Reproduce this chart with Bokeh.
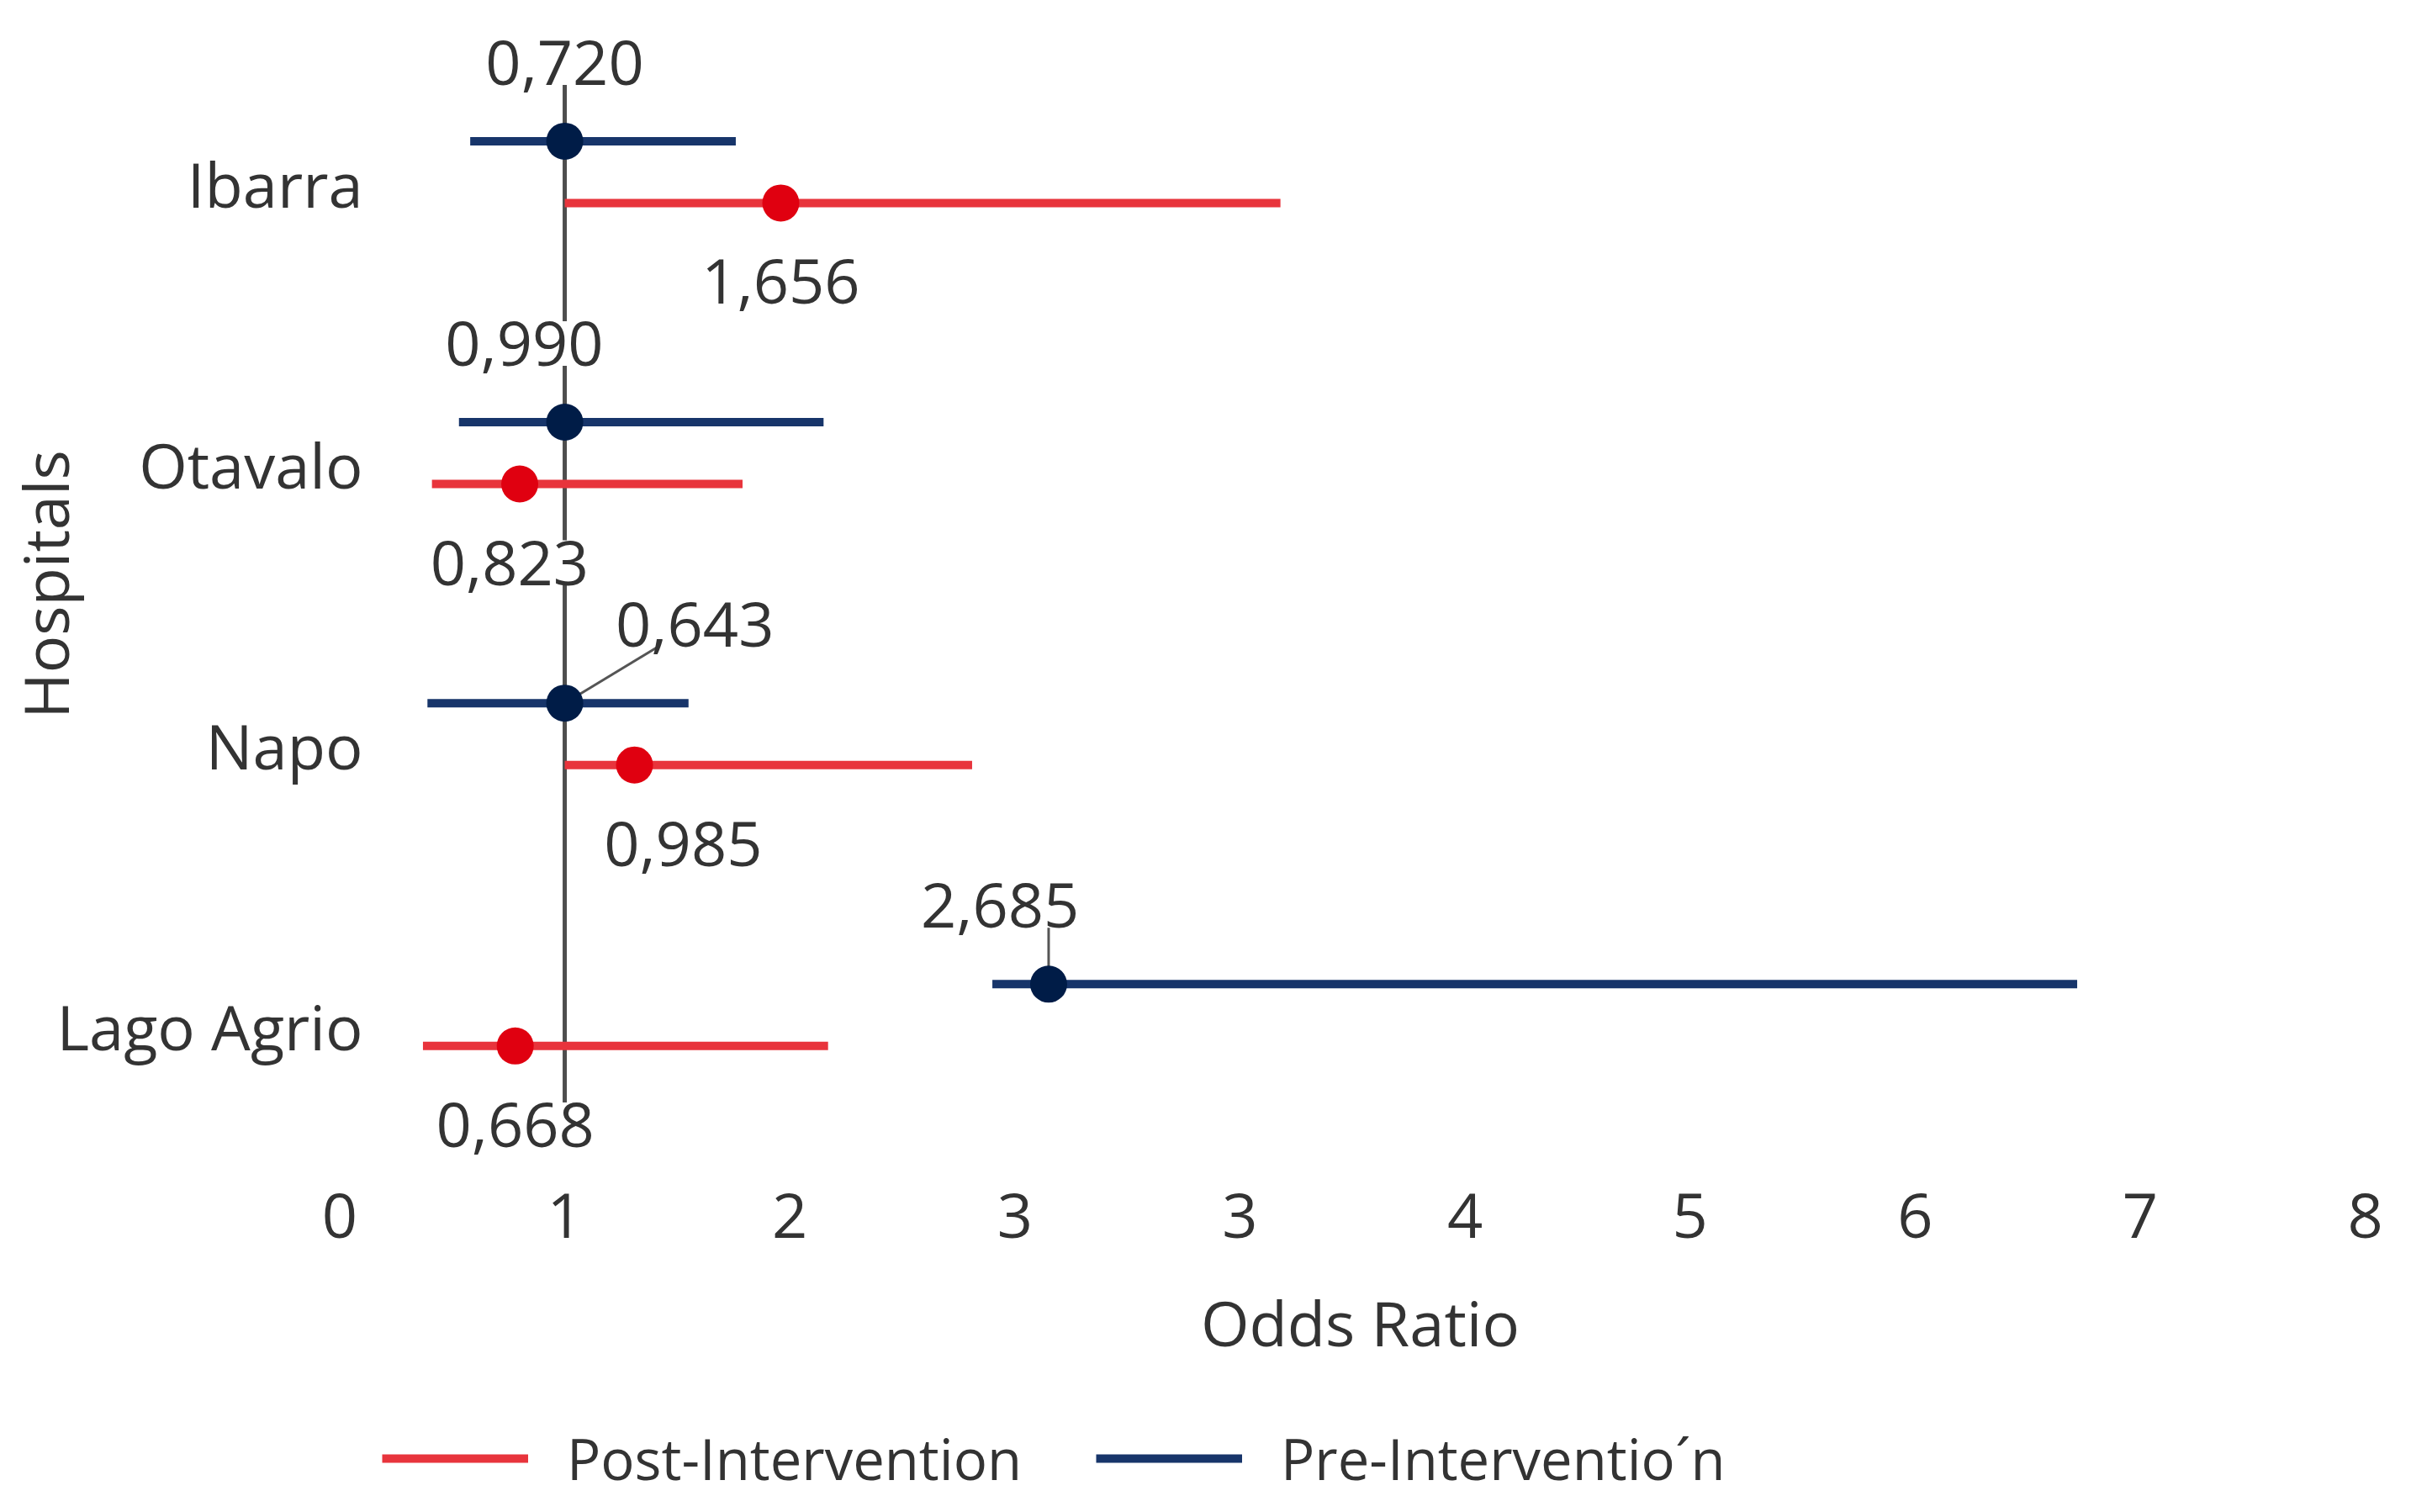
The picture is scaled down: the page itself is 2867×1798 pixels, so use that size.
from bokeh.plotting import figure
from bokeh.layouts import column
from bokeh.models import (FixedTicker, Range1d, ColumnDataSource, LabelSet,
                          Legend, LegendItem)
from bokeh.core.properties import value
from bokeh.embed import file_html
from bokeh.resources import INLINE

# ---------------- data ----------------
hospitals = ["Ibarra", "Otavalo", "Napo", "Lago Agrio"]
pre_or = [1.0, 1.0, 1.0, 3.15]
pre_lo = [0.58, 0.53, 0.39, 2.90]
pre_hi = [1.76, 2.15, 1.55, 7.72]
post_or = [1.96, 0.80, 1.31, 0.78]
post_lo = [1.0, 0.41, 1.0, 0.37]
post_hi = [4.18, 1.79, 2.81, 2.17]
pre_labels = ["0,720", "0,990", "0,643", "2,685"]
post_labels = ["1,656", "0,823", "0,985", "0,668"]
x_tick_labels = ["0", "1", "2", "3", "3", "4", "5", "6", "7", "8"]
legend_labels = ["Post-Intervention", "Pre-Interventio\u00b4n"]

# ---------------- layout / style ----------------
FONT = "Open Sans"
TXT = "#333333"
RED_LINE, RED_DOT = "#e8343c", "#e00010"
BLUE_LINE, BLUE_DOT = "#17356a", "#001c47"
PRE_SHIFT, POST_SHIFT = 0.15, -0.07
LABEL_GAP = 0.28
pre_dx = [0.0, -0.18, 0.578, -0.216]
post_dx = [0.0, -0.045, 0.216, 0.0]
leader = [None, None, "slant", "vertical"]

n = len(hospitals)
rows = [n - 1 - i for i in range(n)]
pre_y = [r + PRE_SHIFT for r in rows]
post_y = [r + POST_SHIFT for r in rows]

p = figure(width=2850, height=1672, output_backend="svg", toolbar_location=None,
           x_range=Range1d(-0.024, 9.093), y_range=Range1d(-0.5, 3.645),
           min_border_left=392, min_border_right=13, min_border_top=2,
           min_border_bottom=285)
p.grid.visible = False
p.outline_line_color = None
p.background_fill_color = "white"

# reference line at OR = 1
p.segment(x0=[1], x1=[1], y0=[rows[0] + 0.35], y1=[-0.43],
          line_color="#4d4d4d", line_width=5)

# leader lines
lx0, lx1, ly0, ly1 = [], [], [], []
for i, kind in enumerate(leader):
    if kind is None:
        continue
    lx0.append(pre_or[i])
    ly0.append(pre_y[i])
    lx1.append(pre_or[i] + (pre_dx[i] if kind == "slant" else 0))
    ly1.append(pre_y[i] + LABEL_GAP)
p.segment(x0=lx0, x1=lx1, y0=ly0, y1=ly1, line_color="#555555", line_width=3)

pre_src = ColumnDataSource(dict(y=pre_y, lo=pre_lo, hi=pre_hi, orv=pre_or))
post_src = ColumnDataSource(dict(y=post_y, lo=post_lo, hi=post_hi, orv=post_or))

p.segment(x0="lo", x1="hi", y0="y", y1="y", source=pre_src,
          line_color=BLUE_LINE, line_width=10)
p.segment(x0="lo", x1="hi", y0="y", y1="y", source=post_src,
          line_color=RED_LINE, line_width=10)
p.scatter(x="orv", y="y", source=pre_src, size=44, fill_color=BLUE_DOT,
          line_color=None)
p.scatter(x="orv", y="y", source=post_src, size=44, fill_color=RED_DOT,
          line_color=None)

lab_src = ColumnDataSource(dict(
    x=[pre_or[i] + pre_dx[i] for i in range(n)] + [post_or[i] + post_dx[i] for i in range(n)],
    y=[pre_y[i] + LABEL_GAP for i in range(n)] + [post_y[i] - LABEL_GAP for i in range(n)],
    t=pre_labels + post_labels))
labels = LabelSet(x="x", y="y", text="t", source=lab_src, text_align="center",
                  text_baseline="middle", text_font=value(FONT),
                  text_font_size=value("74px"), text_color=value(TXT),
                  background_fill_color="white")
p.add_layout(labels)

# axes
xa = p.xaxis[0]
xa.ticker = FixedTicker(ticks=list(range(len(x_tick_labels))))
xa.major_label_overrides = {i: s for i, s in enumerate(x_tick_labels)}
xa.axis_label = "Odds Ratio"
xa.axis_label_standoff = 47
xa.major_label_standoff = 25

ya = p.yaxis[0]
ya.ticker = FixedTicker(ticks=rows)
ya.major_label_overrides = {r: h for r, h in zip(rows, hospitals)}
ya.axis_label = "Hospitals"
ya.major_label_standoff = -40
ya.axis_label_standoff = -40

for ax in (xa, ya):
    ax.axis_line_color = None
    ax.major_tick_line_color = None
    ax.minor_tick_line_color = None
    ax.major_label_text_font = FONT
    ax.major_label_text_font_size = "74px"
    ax.major_label_text_color = TXT
    ax.axis_label_text_font = FONT
    ax.axis_label_text_font_size = "74px"
    ax.axis_label_text_font_style = "normal"
    ax.axis_label_text_color = TXT

# ---------------- legend strip ----------------
# same series drawn in a strip whose y range shows none of them; only the legend is visible
lf = figure(width=2850, height=108, output_backend="svg", toolbar_location=None,
            x_range=Range1d(0, 1), y_range=Range1d(100, 101),
            x_axis_type=None, y_axis_type=None,
            min_border_left=0, min_border_right=0, min_border_top=0,
            min_border_bottom=0)
lf.grid.visible = False
lf.outline_line_color = None
leg_post = lf.segment(x0="lo", x1="hi", y0="y", y1="y", source=post_src,
                      line_color=RED_LINE, line_width=10)
leg_pre = lf.segment(x0="lo", x1="hi", y0="y", y1="y", source=pre_src,
                     line_color=BLUE_LINE, line_width=10)

legend = Legend(items=[LegendItem(label=legend_labels[0], renderers=[leg_post]),
                       LegendItem(label=legend_labels[1], renderers=[leg_pre])],
                orientation="horizontal", location=(57, 0),
                glyph_width=174, glyph_height=92, label_height=92,
                label_standoff=46, spacing=88,
                label_text_font=FONT, label_text_font_size="67px",
                label_text_color=TXT, border_line_color=None,
                background_fill_alpha=0, margin=0, padding=0)
lf.add_layout(legend, "center")

open("out.html", "w").write(file_html(column(p, lf, spacing=0), INLINE))
